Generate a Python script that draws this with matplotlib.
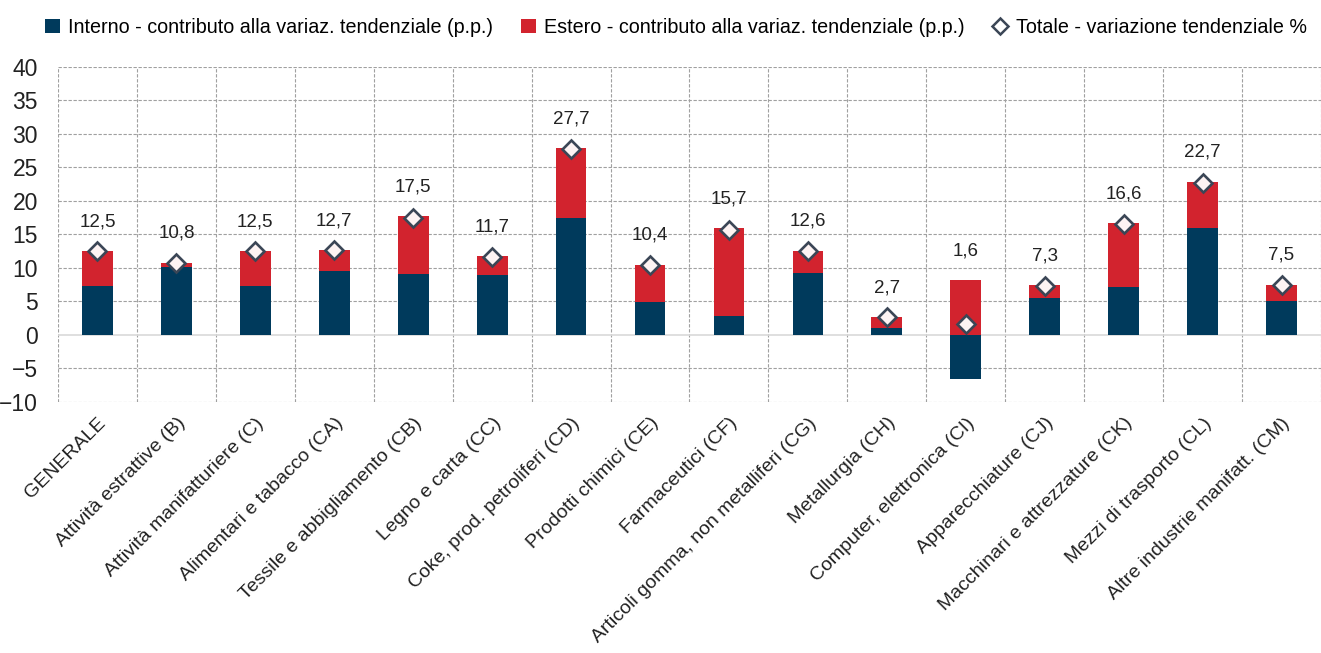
import numpy as np
import matplotlib.pyplot as plt
from matplotlib.lines import Line2D
from matplotlib.patches import Patch

plt.rcParams['font.family'] = ['Liberation Sans', 'DejaVu Sans']

categories = ["GENERALE", "Attività estrattive (B)", "Attività manifatturiere (C)",
              "Alimentari e tabacco (CA)", "Tessile e abbigliamento (CB)", "Legno e carta (CC)",
              "Coke, prod. petroliferi (CD)", "Prodotti chimici (CE)", "Farmaceutici (CF)",
              "Articoli gomma, non metalliferi (CG)", "Metallurgia (CH)", "Computer, elettronica (CI)",
              "Apparecchiature (CJ)", "Macchinari e attrezzature (CK)", "Mezzi di trasporto (CL)",
              "Altre industrie manifatt. (CM)"]
interno = [7.3, 10.1, 7.3, 9.5, 9.1, 8.9, 17.5, 4.9, 2.9, 9.3, 1.0, -6.6, 5.5, 7.2, 15.9, 5.0]
estero = [5.2, 0.7, 5.2, 3.2, 8.6, 2.9, 10.4, 5.6, 13.0, 3.3, 1.7, 8.2, 1.9, 9.5, 7.0, 2.5]
totale = [12.5, 10.8, 12.5, 12.7, 17.5, 11.7, 27.7, 10.4, 15.7, 12.6, 2.7, 1.6, 7.3, 16.6, 22.7, 7.5]

navy = "#003a5c"
red = "#d2232e"
edge = "#3b4656"

fig = plt.figure(figsize=(13.21, 6.53), dpi=100)
ax = fig.add_axes([0.0439, 0.3844, 0.9561, 0.5130])

x = np.arange(len(categories))
interno = np.array(interno)
estero = np.array(estero)
# estero stacks on top of positive interno, or from zero if interno is negative
base = np.where(interno > 0, interno, 0)

ax.bar(x, interno, width=0.39, color=navy, zorder=3)
ax.bar(x, estero, width=0.39, bottom=base, color=red, zorder=3)
ax.plot(x, totale, linestyle='none', marker='D', markersize=9.5,
        markerfacecolor='#fdf3f3', markeredgecolor=edge, markeredgewidth=1.9, zorder=4)

for i, t in enumerate(totale):
    top = max(t, base[i] + estero[i])
    ax.annotate(f"{t:.1f}".replace('.', ','), (x[i], top), xytext=(0, 15),
                textcoords='offset points', ha='center', va='bottom', fontsize=13.5, color='#222222')

ax.set_xlim(-0.5, len(categories) - 0.5)
ax.set_ylim(-10, 40)
ax.set_yticks(range(-10, 41, 5))
ax.tick_params(axis='y', labelsize=16.5, length=0, pad=14.5, labelcolor='#222222')

ax.set_xticks(x)
ax.set_xticklabels(categories, rotation=45, ha='right', va='top', rotation_mode='anchor',
                   fontsize=14, color='#222222')
ax.tick_params(axis='x', length=0, pad=9)

# grid
for yv in range(-10, 41, 5):
    if yv != 0:
        ax.axhline(yv, color='#a0a0a0', linestyle=(0, (3, 1.5)), linewidth=0.8, zorder=1)
ax.axhline(0, color='#d9d9d9', linewidth=1.2, zorder=2)
for xv in np.arange(-0.5, len(categories), 1.0):
    ax.axvline(xv, color='#a0a0a0', linestyle=(0, (3, 1.5)), linewidth=0.8, zorder=1)
for s in ax.spines.values():
    s.set_visible(False)

handles = [Patch(facecolor=navy), Patch(facecolor=red),
           Line2D([], [], linestyle='none', marker='D', markersize=8,
                  markerfacecolor='white', markeredgecolor=edge, markeredgewidth=1.8)]
labels = ["Interno - contributo alla variaz. tendenziale (p.p.)",
          "Estero - contributo alla variaz. tendenziale (p.p.)",
          "Totale - variazione tendenziale %"]
fig.legend(handles, labels, loc='center left', bbox_to_anchor=(0.034, 0.958), ncol=3, frameon=False,
           fontsize=14.2, handlelength=0.75, handleheight=0.75, handletextpad=0.4, columnspacing=1.45,
           borderaxespad=0, borderpad=0)

fig.savefig("out.png", dpi=100, facecolor='white')
